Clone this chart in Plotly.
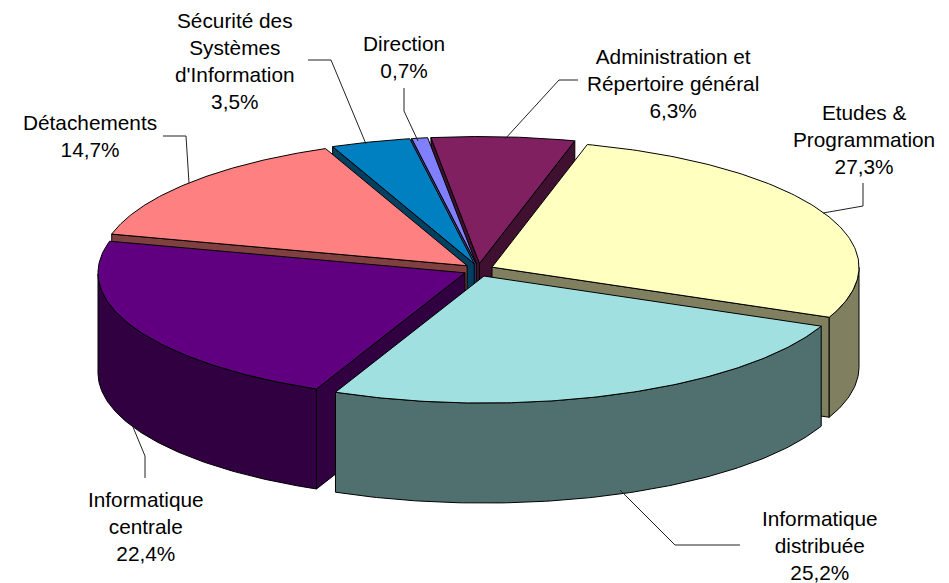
import numpy as np
import plotly.graph_objects as go

# Data
categories = ["Administration et<br>Répertoire général", "Etudes &<br>Programmation",
              "Informatique<br>distribuée", "Informatique<br>centrale", "Détachements",
              "Sécurité des<br>Systèmes<br>d'Information", "Direction"]
shares = [6.3, 27.3, 25.2, 22.4, 14.7, 3.5, 0.7]

# Styles
top_colors = ["#802060", "#FFFFC0", "#A0E0E0", "#600080", "#FF8080", "#0080C0", "#8080FF"]
side_colors = ["#401030", "#808060", "#507070", "#300040", "#804040", "#004060", "#404080"]

# Geometry of the projected pie (pixels)
CX, CY = 478.5, 270.0
RX, RY = 367.0, 127.0
EX, EY = 15.0, 6.5
DEPTH = 100.0
START_DEG = -7.6
draw_order = [0, 6, 5, 4, 1, 3, 2]

# Label placement
label_pos = [(673, 83), (864, 139), (820, 545), (146, 526), (90, 136), (235, 61), (404, 57)]
leaders = [
    [(578, 80), (559, 80), (505, 139)],
    [(863, 183), (863, 206), (823, 213)],
    [(740, 545), (675, 545), (620, 490)],
    [(145, 478), (145, 456), (133, 427)],
    [(163, 136), (186, 136), (189, 183)],
    [(308, 60), (331, 60), (366, 144)],
    [(404, 88), (404, 111), (418, 141)],
]

fig = go.Figure()


def poly(xs, ys, color):
    fig.add_trace(go.Scatter(x=list(xs), y=list(ys), mode="lines", fill="toself", fillcolor=color,
                             line=dict(color="#000000", width=1), hoverinfo="skip", showlegend=False))


total = sum(shares)
edges = np.deg2rad(START_DEG + np.concatenate([[0], np.cumsum(shares)]) / total * 360)

for i in draw_order:
    a0, a1 = edges[i], edges[i + 1]
    mid = (a0 + a1) / 2
    ax = CX + EX * np.sin(mid)
    ay = CY - EY * np.cos(mid)
    t = np.linspace(a0, a1, 120)
    x = ax + RX * np.sin(t)
    y = ay - RY * np.cos(t)
    # radial faces: only those turned towards the viewer
    if np.sin(a0) < 0:
        poly([ax, x[0], x[0], ax, ax], [ay, y[0], y[0] + DEPTH, ay + DEPTH, ay], side_colors[i])
    if np.sin(a1) > 0:
        poly([ax, x[-1], x[-1], ax, ax], [ay, y[-1], y[-1] + DEPTH, ay + DEPTH, ay], side_colors[i])
    # outer wall: only the part facing the viewer
    front = np.cos(t) < 0
    if front.any():
        fx, fy = x[front], y[front]
        poly(np.concatenate([fx, fx[::-1], fx[:1]]),
             np.concatenate([fy, fy[::-1] + DEPTH, fy[:1]]), side_colors[i])
    # top face
    poly(np.concatenate([[ax], x, [ax]]), np.concatenate([[ay], y, [ay]]), top_colors[i])

for pts in leaders:
    fig.add_trace(go.Scatter(x=[p[0] for p in pts], y=[p[1] for p in pts], mode="lines",
                             line=dict(color="#222222", width=1), hoverinfo="skip", showlegend=False))

for name, val, (lx, ly) in zip(categories, shares, label_pos):
    pct = f"{val:.1f}%".replace(".", ",")
    fig.add_annotation(x=lx, y=ly, text=f"{name}<br>{pct}", showarrow=False, xanchor="center",
                       yanchor="middle", align="center",
                       font=dict(family="Liberation Sans", size=20.8, color="#000000"))

fig.update_layout(
    width=949, height=583, margin=dict(l=0, r=0, t=0, b=0),
    paper_bgcolor="#FFFFFF", plot_bgcolor="#FFFFFF", showlegend=False,
    xaxis=dict(range=[0, 949], visible=False, fixedrange=True),
    yaxis=dict(range=[583, 0], visible=False, fixedrange=True),
)
fig.write_html("out.html", config={"displayModeBar": False},
               post_script="document.body.style.margin='0';document.body.style.overflow='hidden';")
